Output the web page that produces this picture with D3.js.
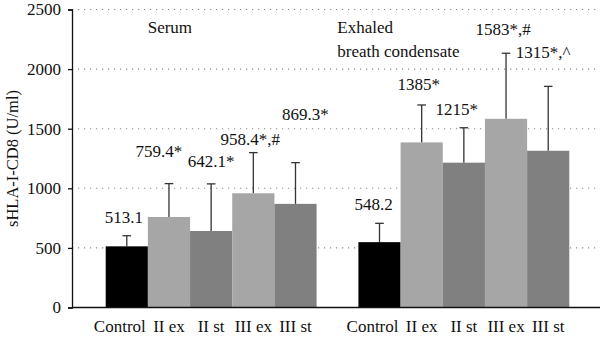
<!DOCTYPE html>
<html><head><meta charset="utf-8">
<script src="https://cdn.jsdelivr.net/npm/d3@7"></script>
<style>
html,body{margin:0;padding:0;background:#fff;}
svg text{font-family:"Liberation Serif",serif !important;fill:#111;}
</style></head>
<body><svg id="c" width="600" height="337"></svg>
<script>
// ---- data ----
const groups = ["Serum", "EBC"];
const groupTitles = [["Serum"], ["Exhaled", "breath condensate"]];
const categories = ["Control", "II ex", "II st", "III ex", "III st"];
const serumMeans = [513.1, 759.4, 642.1, 958.4, 869.3];
const serumSD = [89, 280, 395, 341, 346];
const ebcMeans = [548.2, 1385, 1215, 1583, 1315];
const ebcSD = [158, 314, 293, 550, 540];
const serumLabels = ["513.1", "759.4*", "642.1*", "958.4*,#", "869.3*"];
const ebcLabels = ["548.2", "1385*", "1215*", "1583*,#", "1315*,^"];
const yTicks = [0, 500, 1000, 1500, 2000, 2500];
const yTitle = "sHLA-I-CD8 (U/ml)";

// ---- layout / style ----
const FONT = "'Liberation Serif', serif";
const colors = {"Control":"#000000","II ex":"#a6a6a6","II st":"#808080","III ex":"#a6a6a6","III st":"#808080"};
// label nudges relative to error-bar top [dx, dy]
const serumNudge = [[-3,-13],[-10,-27],[0,-17],[-3,-8],[10,-43]];
const ebcNudge = [[-6,-13],[-3,-15],[-7,-13],[-3,-18],[-5,-28]];

const svg = d3.select("#c");
const axisX = 72, baseY = 307.5, topY = 9.5, rightX = 600;
const y = d3.scaleLinear().domain([0, 2500]).range([baseY, topY]);
const xg = d3.scaleBand().domain(groups).range([105.7, 569.3]).paddingInner(0.1655).paddingOuter(0);
const xi = d3.scaleBand().domain(categories).range([0, xg.bandwidth()]).padding(0);

// gridlines
svg.append("g").selectAll("line").data(yTicks.filter(d => d > 0)).join("line")
  .attr("x1", axisX).attr("x2", rightX)
  .attr("y1", d => y(d)).attr("y2", d => y(d))
  .attr("stroke", "#8a8a8a").attr("stroke-width", 1.1)
  .attr("stroke-dasharray", "1.2,4.8");

// y axis
const yAxis = d3.axisLeft(y).tickValues(yTicks).tickSize(4).tickPadding(7).tickFormat(d3.format("d"));
const ya = svg.append("g").attr("transform", `translate(${axisX},0)`).call(yAxis)
  .attr("font-family", null).attr("font-size", null);
ya.select(".domain").attr("stroke", "#111").attr("stroke-width", 1.3);
ya.selectAll(".tick line").attr("stroke", "#111").attr("stroke-width", 1.3);
ya.selectAll(".tick text").style("font-size", "17px").style("font-family", FONT).attr("fill", "#111");

// y title
svg.append("text").attr("transform", `translate(18,${(baseY+topY)/2}) rotate(-90)`)
  .attr("text-anchor", "middle").style("font-size", "16.5px").style("font-family", FONT).text(yTitle);

const datasets = [
  {g: "Serum", means: serumMeans, sd: serumSD, labels: serumLabels, nudge: serumNudge},
  {g: "EBC", means: ebcMeans, sd: ebcSD, labels: ebcLabels, nudge: ebcNudge}
];

datasets.forEach(ds => {
  const gx = xg(ds.g);
  const rows = categories.map((c, i) => ({c, m: ds.means[i], sd: ds.sd[i], lab: ds.labels[i], nd: ds.nudge[i]}));
  const g = svg.append("g").attr("transform", `translate(${gx},0)`);
  g.selectAll("line.eb").data(rows).join("line").attr("class","eb")
    .attr("x1", d => xi(d.c) + xi.bandwidth()/2).attr("x2", d => xi(d.c) + xi.bandwidth()/2)
    .attr("y1", d => y(d.m)).attr("y2", d => y(d.m + d.sd))
    .attr("stroke", "#333").attr("stroke-width", 1.3);
  g.selectAll("line.cap").data(rows).join("line").attr("class","cap")
    .attr("x1", d => xi(d.c) + xi.bandwidth()/2 - 4.3).attr("x2", d => xi(d.c) + xi.bandwidth()/2 + 4.3)
    .attr("y1", d => y(d.m + d.sd)).attr("y2", d => y(d.m + d.sd))
    .attr("stroke", "#333").attr("stroke-width", 1.3);
  g.selectAll("rect").data(rows).join("rect")
    .attr("x", d => xi(d.c)).attr("width", xi.bandwidth())
    .attr("y", d => y(d.m)).attr("height", d => y(0) - y(d.m))
    .attr("fill", d => colors[d.c]);
  g.selectAll("text.val").data(rows).join("text").attr("class","val")
    .attr("x", d => xi(d.c) + xi.bandwidth()/2 + d.nd[0])
    .attr("y", d => y(d.m + d.sd) + d.nd[1])
    .attr("text-anchor", "middle").style("font-size", "17px").style("font-family", FONT).text(d => d.lab);
  g.selectAll("text.cat").data(rows).join("text").attr("class","cat")
    .attr("x", (d, i) => xi(d.c) + xi.bandwidth()/2 + (i === 0 ? -7 : 0))
    .attr("y", 332).attr("text-anchor", "middle").style("font-size", "17px").style("font-family", FONT).text(d => d.c);
});

// x axis baseline
svg.append("line").attr("x1", axisX).attr("x2", rightX).attr("y1", y(0)).attr("y2", y(0))
  .attr("stroke", "#111").attr("stroke-width", 1.3);

// group titles
const titlePos = {Serum: [147.7, 33], EBC: [337.3, 33]};
groups.forEach((gname, gi) => {
  const t = svg.append("text").attr("x", titlePos[gname][0]).attr("y", titlePos[gname][1])
    .style("font-size", "17px").style("font-family", FONT);
  groupTitles[gi].forEach((line, li) => {
    t.append("tspan").attr("x", titlePos[gname][0]).attr("dy", li === 0 ? 0 : 23.7).text(line);
  });
});
</script></body></html>
